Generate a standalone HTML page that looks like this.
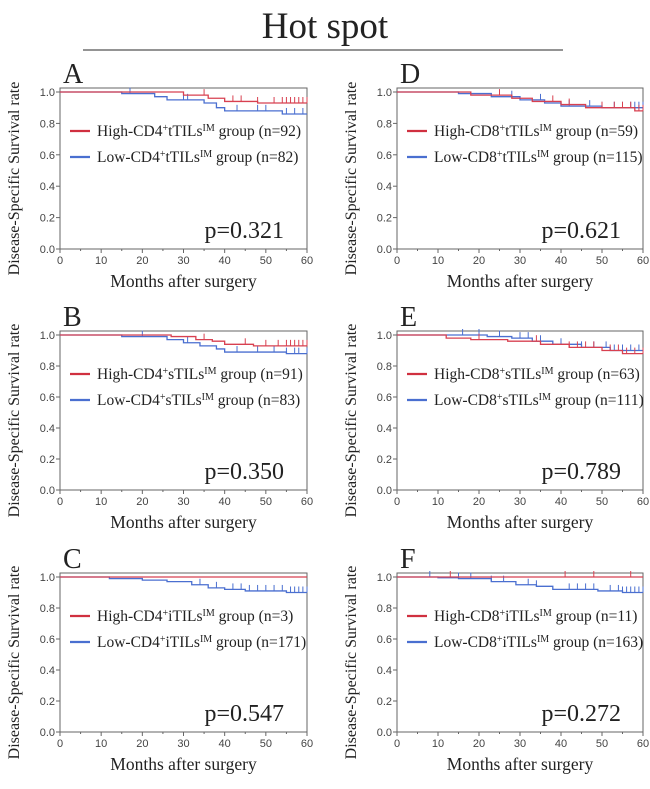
<!DOCTYPE html>
<html><head><meta charset="utf-8"><style>
html,body{margin:0;padding:0;background:#fff;}
svg{display:block;}
.tk{font-family:"Liberation Sans",sans-serif;font-size:11px;fill:#444;}
.sf{font-family:"Liberation Serif",serif;fill:#222;}
</style></head><body>
<svg id="fig" width="650" height="789" viewBox="0 0 650 789">
<text x="325" y="38" text-anchor="middle" class="sf" font-size="37">Hot spot</text>
<line x1="83" y1="50" x2="563" y2="50" stroke="#555" stroke-width="1.2"/>
</svg>
<script>
// ---- data ----
const panelLetters = ["A","B","C","D","E","F"];
const highLabels = [["High-CD4","tTILs","92"],["High-CD4","sTILs","91"],["High-CD4","iTILs","3"],["High-CD8","tTILs","59"],["High-CD8","sTILs","63"],["High-CD8","iTILs","11"]];
const lowLabels = [["Low-CD4","tTILs","82"],["Low-CD4","sTILs","83"],["Low-CD4","iTILs","171"],["Low-CD8","tTILs","115"],["Low-CD8","sTILs","111"],["Low-CD8","iTILs","163"]];
const pValues = ["0.321","0.350","0.547","0.621","0.789","0.272"];
const xTicks = [0,10,20,30,40,50,60];
const yTicks = [0,0.2,0.4,0.6,0.8,1.0];
// step curves: event times and survival after each event
const highTimes = [[30,36,40,48],[27,33,37,40,47],[],[18,28,33,40,46,58],[12,18,27,35,42,50,55],[]];
const highSurv  = [[0.98,0.96,0.94,0.93],[0.99,0.97,0.96,0.94,0.93],[],[0.98,0.96,0.94,0.92,0.90,0.88],[0.98,0.97,0.96,0.94,0.92,0.90,0.88],[]];
const lowTimes  = [[15,23,26,35,38,40,54],[15,26,30,34,38,40,55],[12,20,26,32,36,40,45,55],[15,23,30,36,40,50],[22,28,33,38,45,52],[10,15,23,29,34,38,49,55]];
const lowSurv   = [[0.99,0.97,0.95,0.93,0.90,0.88,0.86],[0.99,0.97,0.95,0.93,0.91,0.89,0.88],[0.99,0.98,0.97,0.95,0.93,0.92,0.91,0.90],[0.99,0.97,0.95,0.93,0.91,0.90],[0.99,0.98,0.96,0.94,0.92,0.90],[0.995,0.99,0.97,0.95,0.94,0.92,0.91,0.90]];
const highCens = [[35,42,44,48,52,54,55,56,57,58,59,60],[35,45,50,53,55,56,57,58,59,60],[],[25,38,42,50,53,55,57,59,60],[20,34,42,44,46,48,52,54,56,58,60],[13,41,48,57]];
const lowCens  = [[17,30,31,43,48,50,55,57,59],[20,31,43,48,52,55,57,58,60],[34,38,42,44,46,48,50,52,54,56,57,58,59,60],[28,35,42,47,50,53,55,57,58,59,60],[16,20,25,30,32,35,40,45,48,51,53,55,57,59],[8,15,18,23,26,32,34,42,44,46,48,52,54,55,56,57,58,59,60]];
// ---- layout ----
const colX = [[60,307],[397,643]];
const rowY = [[92,249],[335,490],[577,732]];
const svg = document.getElementById('fig');
const NS = "http://www.w3.org/2000/svg";
function mk(tag, attrs, parent){const e=document.createElementNS(NS,tag);for(const k in attrs)e.setAttribute(k,attrs[k]);(parent||svg).appendChild(e);return e;}
function legendText(g,x,y,lab){
  const t=mk('text',{x:x,y:y,class:'sf','font-size':15.5},g);
  
  
  t.innerHTML=lab[0]+'<tspan dy="-5" font-size="10">+</tspan><tspan dy="5">'+lab[1]+'</tspan><tspan dy="-5" font-size="10">IM</tspan><tspan dy="5"> group (n='+lab[2]+')</tspan>';
}
for(let i=0;i<6;i++){
  const col=Math.floor(i/3), row=i%3;
  const [L,R]=colX[col], [T,B]=rowY[row];
  const sx=v=>L+(R-L)*v/60, sy=v=>B-(B-T)*v;
  const g=mk('g',{});
  
  
  const lt=mk('text',{x:L+3,y:T-9,class:'sf','font-size':28},g);
  
  
  lt.textContent=panelLetters[i];
  const box=mk('rect',{x:L,y:T-4,width:R-L,height:B-T+4,fill:'none',stroke:'#666','stroke-width':1},g);
  
  
  yTicks.forEach(v=>{
    mk('line',{x1:L-4,x2:L,y1:sy(v),y2:sy(v),stroke:'#666'},g);
    const t=mk('text',{x:L-5,y:sy(v)+4,'text-anchor':'end',class:'tk'},g);
    
    
    t.textContent=v.toFixed(1);
  });
  xTicks.forEach(v=>{
    mk('line',{x1:sx(v),x2:sx(v),y1:B,y2:B+4,stroke:'#666'},g);
    if(v<60) mk('line',{x1:sx(v+5),x2:sx(v+5),y1:B,y2:B+2,stroke:'#666'},g);
    const t=mk('text',{x:sx(v),y:B+15,'text-anchor':'middle',class:'tk'},g);
    
    
    t.textContent=v;
  });
  const xl=mk('text',{x:(L+R)/2,y:B+38,'text-anchor':'middle',class:'sf','font-size':17.5},g);
  
  
  xl.textContent='Months after surgery';
  const yx=L-41, yc=(T+B)/2+8;
  const yl=mk('text',{x:yx,y:yc,'text-anchor':'middle',class:'sf','font-size':16,transform:'rotate(-90 '+yx+' '+yc+')'},g);
  
  
  yl.textContent='Disease-Specific Survival rate';
  function curve(times,surv,cens,color,name){
    let d='M'+sx(0)+','+sy(1);
    times.forEach((t,k)=>{d+=' H'+sx(t)+' V'+sy(surv[k]);});
    d+=' H'+sx(60);
    const p=mk('path',{d:d,fill:'none',stroke:color,'stroke-width':1.3},g);
    
    
    cens.forEach(c=>{
      let v=1; times.forEach((t,k)=>{if(t<=c)v=surv[k];});
      const m=mk('line',{x1:sx(c),x2:sx(c),y1:sy(v)-6,y2:sy(v),stroke:color,'stroke-width':1},g);
      
      
    });
  }
  curve(lowTimes[i],lowSurv[i],lowCens[i],'#4a6fd0','low');
  curve(highTimes[i],highSurv[i],highCens[i],'#d84050','high');
  const ly1=T+39, ly2=T+65;
  mk('line',{x1:L+10,x2:L+30,y1:ly1,y2:ly1,stroke:'#d03040','stroke-width':2.2},g);
  mk('line',{x1:L+10,x2:L+30,y1:ly2,y2:ly2,stroke:'#4a6fd0','stroke-width':2.2},g);
  legendText(g,L+37,ly1+5,highLabels[i]);
  legendText(g,L+37,ly2+5,lowLabels[i]);
  const pv=mk('text',{x:L+224,y:B-11,'text-anchor':'end',class:'sf','font-size':24},g);
  
  
  pv.textContent='p='+pValues[i];
}
</script>
</body></html>
